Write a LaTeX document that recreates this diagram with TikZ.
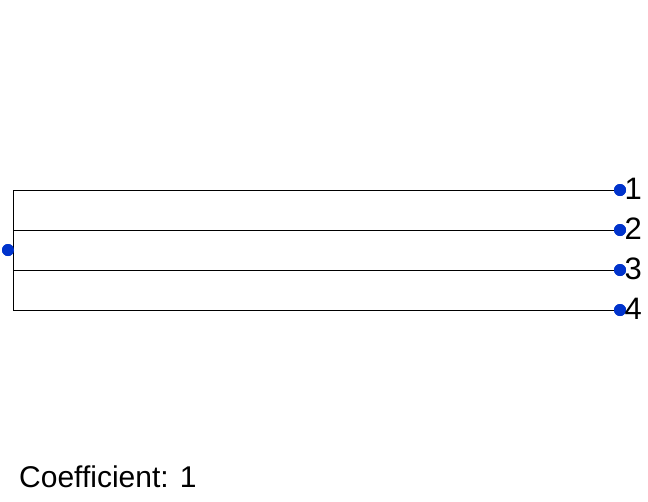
\documentclass[tikz,border=0pt]{standalone}
\usepackage{fontspec}
\setmainfont{Liberation Sans}
\definecolor{dotblue}{RGB}{0,51,204}
\begin{document}
\begin{tikzpicture}[x=1pt,y=-1pt,
  branch/.style={line width=0.8pt,black},
  leafdot/.style={circle,fill=dotblue,inner sep=0pt,minimum size=12pt},
  leaflabel/.style={anchor=west,inner sep=0pt,font=\fontsize{31}{33}\selectfont},
  caption/.style={anchor=base west,inner sep=0pt,font=\fontsize{30}{32}\selectfont}]
\useasboundingbox (0,0) rectangle (648,501);
\node[leafdot] (root) at (8,250) {};
\coordinate (j1) at (13,190);
\coordinate (j2) at (13,230);
\coordinate (j3) at (13,270);
\coordinate (j4) at (13,310);
\node[leafdot] (l1) at (620,190) {};
\node[leafdot] (l2) at (620,230) {};
\node[leafdot] (l3) at (620,270) {};
\node[leafdot] (l4) at (620,310) {};
\draw[branch] (j1) -- (j4);
\draw[branch] (j1) -- (l1.center);
\draw[branch] (j2) -- (l2.center);
\draw[branch] (j3) -- (l3.center);
\draw[branch] (j4) -- (l4.center);
\node[leafdot] at (root) {};
\foreach \i in {1,...,4} {\node[leafdot] at (l\i) {};}
\node[leaflabel] (t1) at (624.5,189) {1};
\node[leaflabel] (t2) at (624.5,229) {2};
\node[leaflabel] (t3) at (624.5,269) {3};
\node[leaflabel] (t4) at (624.5,309) {4};
\node[caption] (cap) at (19,487) {Coefficient: 1};
\end{tikzpicture}
\end{document}
